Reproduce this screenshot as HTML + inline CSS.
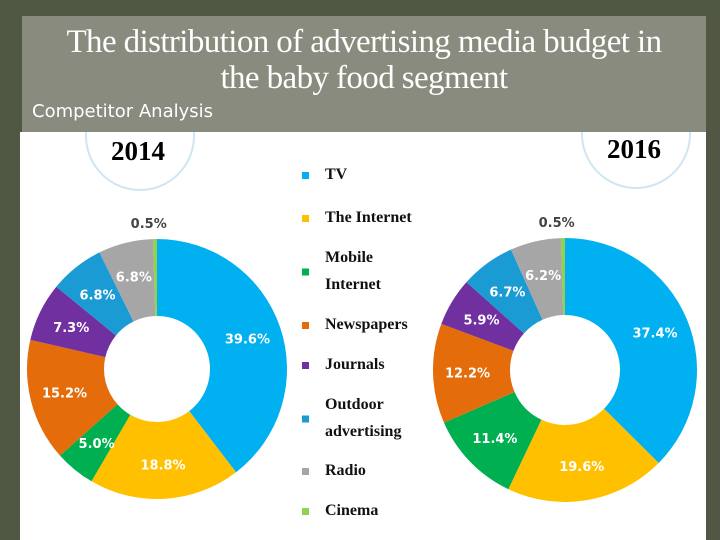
<!DOCTYPE html>
<html><head><meta charset="utf-8"><style>
body{margin:0;width:720px;height:540px;overflow:hidden;background:#505844;font-family:"Liberation Sans",sans-serif}
#panel{position:absolute;left:22px;top:16px;width:684px;height:524px;background:#888b7d}
#title{position:absolute;left:22px;top:24px;width:684px;text-align:center;color:#fff;font-family:"Liberation Serif",serif;font-size:33px;line-height:36px;letter-spacing:-0.6px}
#sub{position:absolute;left:32px;top:101px;color:#fff;font-family:"DejaVu Sans",sans-serif;font-size:18px}
#chart{position:absolute;left:0;top:0}
</style></head><body>
<div id="panel"></div>
<div id="title">The distribution of advertising media budget in<br>the baby food segment</div>
<div id="sub">Competitor Analysis</div>
<svg id="chart" width="720" height="540">
<defs><clipPath id="imgclip"><rect x="20" y="132" width="686" height="408"/></clipPath></defs>
<rect x="20" y="132" width="686" height="408" fill="#fff"/>
<g id="badges" clip-path="url(#imgclip)"></g>
</svg>
<script>
const categories=["TV","The Internet","Mobile Internet","Newspapers","Journals","Outdoor advertising","Radio","Cinema"];
const values2014=[39.6,18.8,5.0,15.2,7.3,6.8,6.8,0.5];
const values2016=[37.4,19.6,11.4,12.2,5.9,6.7,6.2,0.5];
const labels2014=["39.6%","18.8%","5.0%","15.2%","7.3%","6.8%","6.8%","0.5%"];
const labels2016=["37.4%","19.6%","11.4%","12.2%","5.9%","6.7%","6.2%","0.5%"];
const colors=["#00b0f0","#ffc000","#00b050","#e46c0a","#7030a0","#1b9bd3","#a6a6a6","#92d050"];
const NS="http://www.w3.org/2000/svg";
const svg=document.getElementById('chart');
const badges=document.getElementById('badges');
function mk(t,a,p){const e=document.createElementNS(NS,t);for(const k in a)e.setAttribute(k,a[k]);(p||svg).appendChild(e);return e;}
function yearLabel(cx,cy,txt){
  const c=mk('circle',{cx:cx,cy:cy,r:54,fill:'none',stroke:'#cfe6f2','stroke-width':2},badges);
  
  
  const t=mk('text',{x:cx-2,y:cy+24,'text-anchor':'middle','font-family':'Liberation Serif,serif','font-weight':'bold','font-size':27,fill:'#000'},badges);
  t.textContent=txt;
  
  
}
yearLabel(140,136,'2014');yearLabel(636,134,'2016');
function donut(cx,cy,R,r,vals,labs,year){
  const tot=vals.reduce((a,b)=>a+b,0);let a0=0;
  vals.forEach((v,i)=>{
    const a1=a0+v/tot*2*Math.PI;
    const p=(a,rr)=>[cx+rr*Math.sin(a),cy-rr*Math.cos(a)];
    const [x1,y1]=p(a0,R),[x2,y2]=p(a1,R),[x3,y3]=p(a1,r),[x4,y4]=p(a0,r);
    const lg=(a1-a0)>Math.PI?1:0;
    const s=mk('path',{d:`M${x1},${y1}A${R},${R} 0 ${lg} 1 ${x2},${y2}L${x3},${y3}A${r},${r} 0 ${lg} 0 ${x4},${y4}Z`,fill:colors[i]});
    
    
    const am=(a0+a1)/2;
    let lx,ly,fill='#fff';
    if(v<2){[lx,ly]=p(am,R+16);fill='#444';lx+=-6;}
    else [lx,ly]=p(am,(R+r)/2+4);
    const t=mk('text',{x:lx,y:ly+5,'text-anchor':'middle','font-family':'DejaVu Sans,sans-serif','font-weight':'bold','font-size':13,fill:fill});
    t.textContent=labs[i];
    
    
    a0=a1;
  });
}
donut(157,369,130,53,values2014,labels2014,'2014');
donut(565,370,132,55,values2016,labels2016,'2016');
const legY=[[173],[216],[256,283],[323],[363],[403,430],[469],[509]];
categories.forEach((c,i)=>{
  const lines=c==="Mobile Internet"?["Mobile","Internet"]:c==="Outdoor advertising"?["Outdoor","advertising"]:[c];
  const ys=legY[i];const my=(ys[0]+ys[ys.length-1])/2;
  const sq=mk('rect',{x:302,y:my-1,width:7,height:7,fill:colors[i]});
  
  
  lines.forEach((l,j)=>{
    const t=mk('text',{x:325,y:ys[j]+6,'font-family':'Liberation Serif,serif','font-weight':'bold','font-size':16,fill:'#111'});
    t.textContent=l;
    
    
  });
});
</script>
</body></html>
